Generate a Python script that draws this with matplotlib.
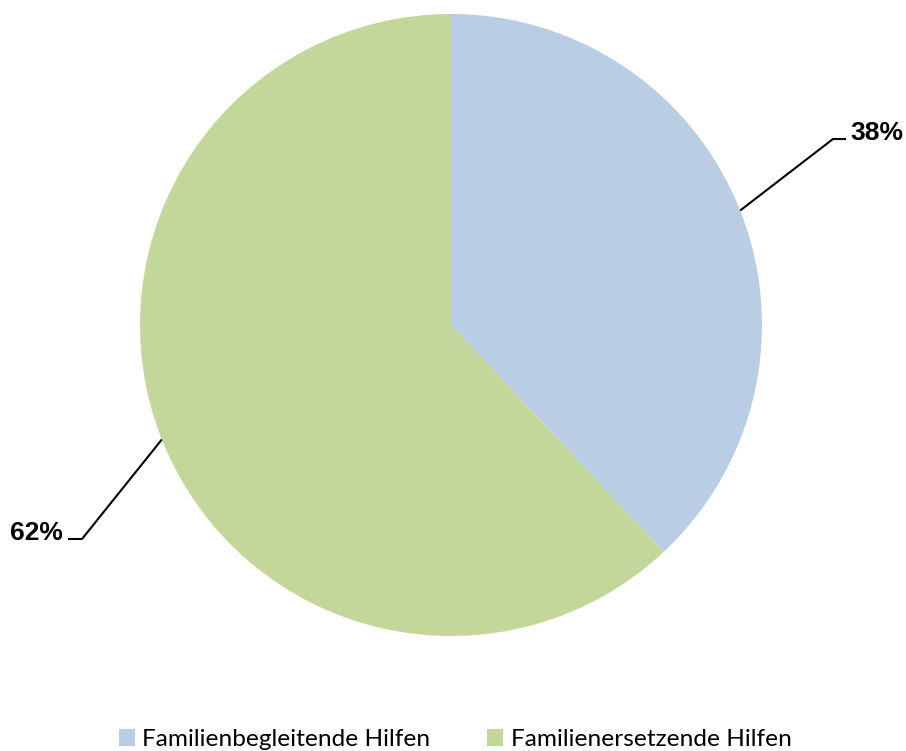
import matplotlib
matplotlib.use("Agg")
import matplotlib.pyplot as plt
import numpy as np

categories = ["Familienbegleitende Hilfen", "Familienersetzende Hilfen"]
values = [38, 62]
labels = ["38%", "62%"]
colors = ["#B9CDE5", "#C4D79B"]

W, H = 906, 751
fig = plt.figure(figsize=(W / 100, H / 100), dpi=100)
ax = fig.add_axes([0, 0, 1, 1])

cx, cy, r = 451, H - 325, 311
wedges, _ = ax.pie(values, colors=colors, startangle=90, counterclock=False,
                   center=(cx, cy), radius=r, frame=True,
                   wedgeprops=dict(linewidth=0, edgecolor="none"))
ax.set_xlim(0, W)
ax.set_ylim(0, H)
ax.axis("off")

# leader lines and labels
elbows = [(833, H - 139, 846, "left"), (82, H - 539, 68, "right")]
for w, lab, (ex, ey, hx, ha) in zip(wedges, labels, elbows):
    ang = np.deg2rad((w.theta1 + w.theta2) / 2)
    sx = cx + r * np.cos(ang)
    sy = cy + r * np.sin(ang)
    ax.plot([sx, ex, hx], [sy, ey, ey], color="black", lw=1.5, solid_capstyle="butt")
    tx = hx + 4 if ha == "left" else hx - 5
    ax.text(tx, ey + 6, lab, ha=ha, va="center", fontsize=19, fontweight="bold",
            family="Liberation Sans", color="black")

leg = fig.legend(wedges, categories, loc="center", bbox_to_anchor=(455 / W, (H - 739.5) / H),
                 ncol=2, frameon=False, prop=dict(family="Lato", size=17.6),
                 handlelength=0.66, handleheight=0.66, handletextpad=0.29,
                 columnspacing=2.35, borderaxespad=0, borderpad=0)

fig.savefig("out.png", dpi=100)
